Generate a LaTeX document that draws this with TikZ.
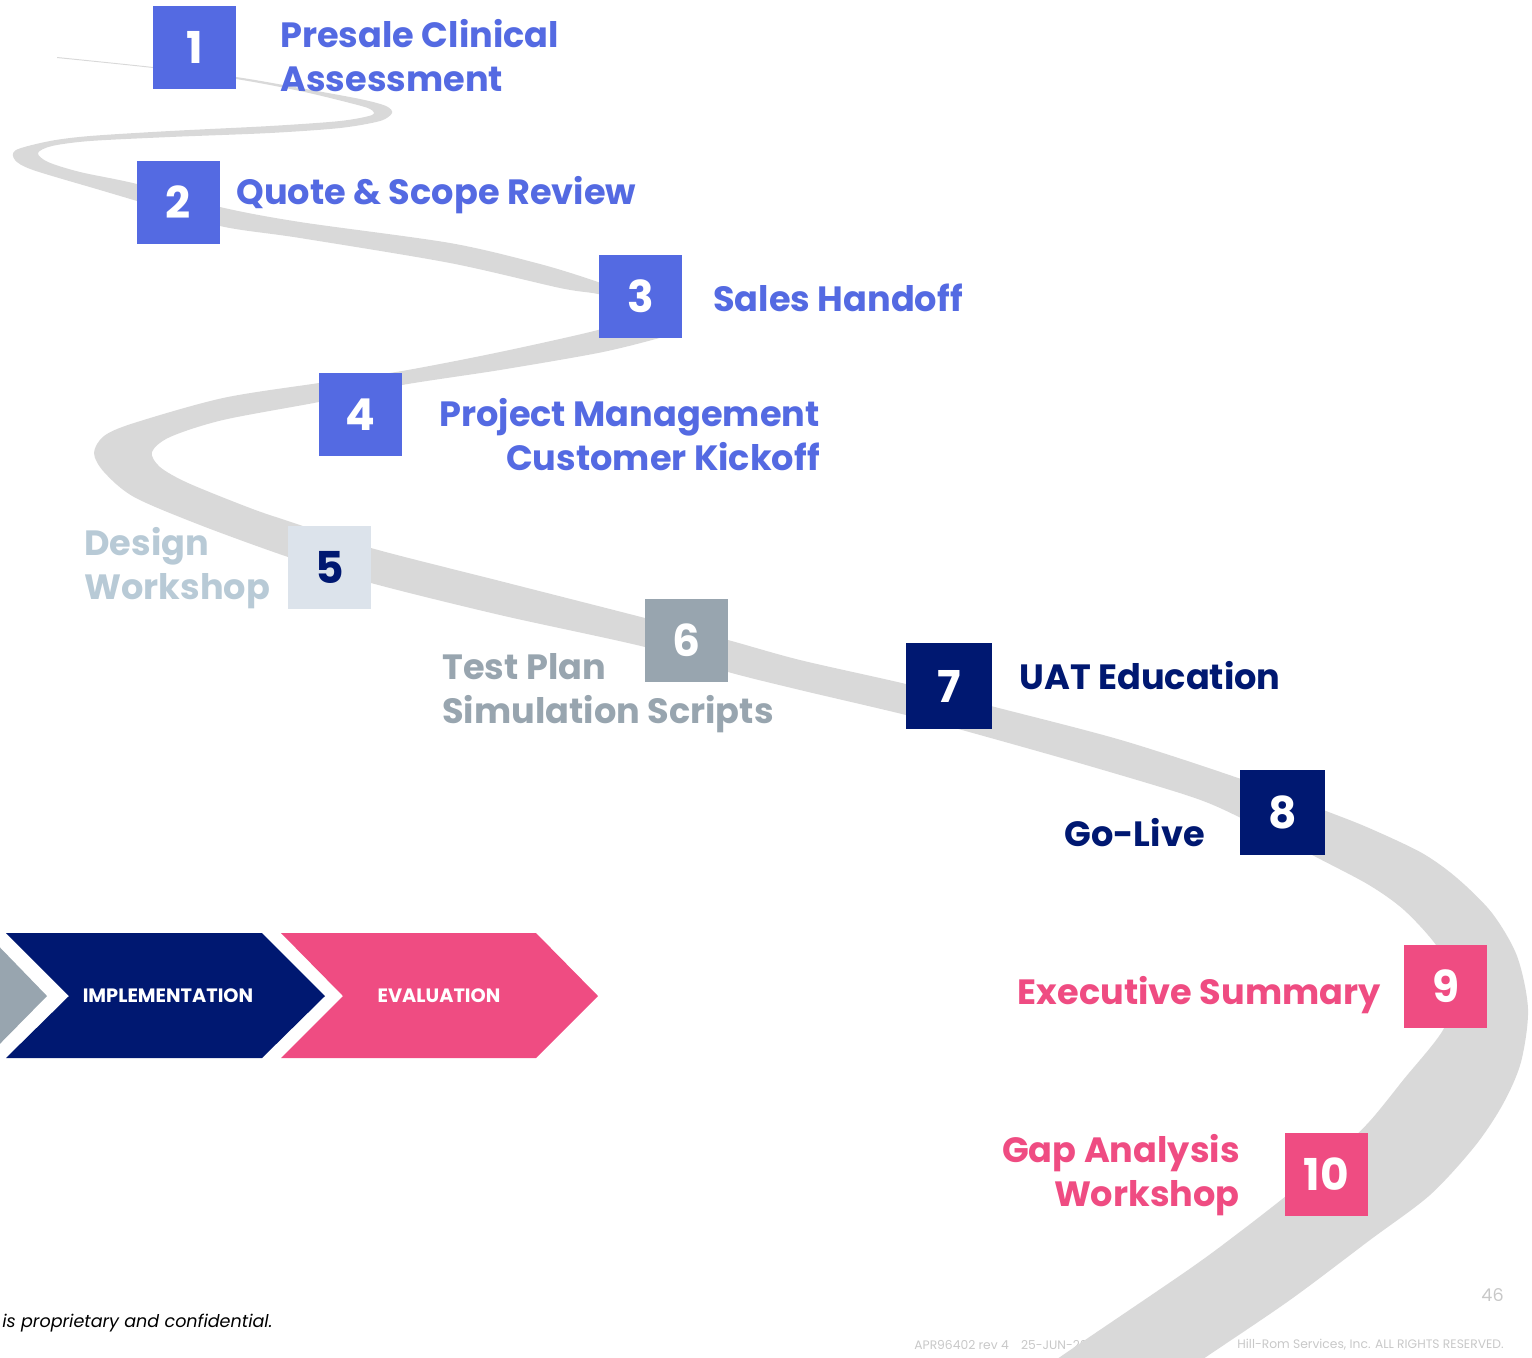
\documentclass[tikz,border=0pt]{standalone}
\usepackage{fontspec}
\setmainfont{Poppins}
\usepackage{tikz}
\usetikzlibrary{positioning}
\definecolor{mblue}{RGB}{84,106,226}
\definecolor{mnavy}{RGB}{0,24,113}
\definecolor{mpink}{RGB}{239,76,130}
\definecolor{mroad}{RGB}{217,217,217}
\definecolor{mslate}{RGB}{152,165,175}
\definecolor{mpale}{RGB}{220,227,235}
\definecolor{mpaletext}{RGB}{184,202,214}
\definecolor{mfoot}{RGB}{200,200,200}
\tikzset{numbox/.style = {rectangle, inner sep = 0, minimum size = 1.66cm,
                          font = \fontsize{25}{25}\selectfont\bfseries, text = white}}
\tikzset{steplabel/.style = {inner sep = 0, font = \fontsize{20}{25}\selectfont\bfseries}}
\tikzset{phase/.style = {font = \fontsize{11}{11}\selectfont\bfseries, text = white}}

\begin{document}
\begin{tikzpicture}[x=0.02cm, y=-0.02cm]
    \useasboundingbox (0, 0) rectangle (1532, 1357);

    % footer
    \node (foot1) at (2, 1323) [anchor=west, inner sep=0, font=\fontsize{10}{10}\selectfont\itshape] {is proprietary and confidential.};
    \node (page) at (1504, 1295) [anchor=east, inner sep=0, text=mfoot, font=\fontsize{10}{10}\selectfont] {46};
    \node (foot2) at (914, 1345) [anchor=west, inner sep=0, text=mfoot, font=\fontsize{7}{7}\selectfont] {APR96402 rev 4\quad 25-JUN-20};
    \node (foot3) at (1504, 1345) [anchor=east, inner sep=0, text=mfoot, font=\fontsize{7}{7}\selectfont] {Hill-Rom Services, Inc. ALL RIGHTS RESERVED.};

    % road
    \fill [mroad] plot [smooth, tension=0.5] coordinates {(57, 57) (153, 67) (236, 77) (300, 88) (360, 99) (386, 106) (392, 113) (380, 121) (340, 128) (270, 133) (170, 137) (90, 141) (52, 146) (38, 153) (48, 162) (80, 172) (137, 184) (220, 207) (300, 222) (450, 243) (540, 264) (598, 282) (645, 300) (672, 318) (668, 334) (652, 340) (598, 353) (500, 370) (402, 385) (319, 402) (223, 420) (170, 437) (152, 452) (160, 467) (188, 483) (250, 508) (288, 521) (371, 548) (500, 581) (645, 618) (728, 640) (800, 660) (906, 684) (991, 706) (1121, 740) (1241, 779) (1326, 811) (1369, 828) (1422, 853) (1457, 878) (1492, 913) (1517, 956) (1528, 1009) (1521, 1062) (1503, 1104) (1475, 1146) (1430, 1195) (1370, 1240) (1290, 1300) (1206, 1357) (1180, 1375)}
      -- plot [smooth, tension=0.5] coordinates {(1035, 1375) (1060, 1357) (1188, 1270) (1241, 1231) (1286, 1196) (1330, 1160) (1369, 1122) (1404, 1079) (1443, 1030) (1458, 985) (1436, 945) (1404, 910) (1369, 885) (1316, 857) (1241, 818) (1192, 797) (1086, 765) (980, 735) (906, 715) (800, 690) (728, 672) (645, 647) (500, 615) (371, 583) (288, 557) (200, 525) (134, 497) (104, 472) (94, 453) (104, 436) (134, 423) (223, 398) (319, 383) (402, 371) (500, 352) (598, 330) (630, 318) (640, 305) (598, 294) (560, 288) (450, 263) (300, 238) (220, 226) (137, 201) (100, 190) (33, 170) (15, 160) (16, 150) (50, 141) (90, 136) (170, 131) (270, 126) (340, 121) (372, 115) (370, 109) (350, 103) (300, 91) (236, 79) (153, 68) (57, 58)}
      -- cycle;

    % phases
    \fill [mslate] (-20, 933) -- (-14, 933) -- (47, 996) -- (-14, 1058) -- (-20, 1058) -- cycle;
    \fill [mnavy] (6, 933) -- (262, 933) -- (325, 996) -- (262, 1058) -- (6, 1058) -- (69, 996) -- cycle;
    \fill [mpink] (281, 933) -- (536, 933) -- (598, 996) -- (536, 1058) -- (281, 1058) -- (343, 996) -- cycle;
    \node (impl) at (168, 996) [phase] {IMPLEMENTATION};
    \node (eval) at (439, 996) [phase] {EVALUATION};

    % steps
    \node (n1) at (194.5, 47.5) [numbox, fill=mblue] {1};
    \node (n2) at (178.5, 202.5) [numbox, fill=mblue] {2};
    \node (n3) at (640.5, 296.5) [numbox, fill=mblue] {3};
    \node (n4) at (360.5, 414.5) [numbox, fill=mblue] {4};
    \node (n5) at (329.5, 567.5) [numbox, fill=mpale, text=mnavy] {5};
    \node (n6) at (686.5, 640.5) [numbox, fill=mslate] {6};
    \node (n7) at (949, 686) [numbox, fill=mnavy, minimum size=1.72cm] {7};
    \node (n8) at (1282.5, 812.5) [numbox, fill=mnavy, minimum size=1.7cm] {8};
    \node (n9) at (1445.5, 986) [numbox, fill=mpink] {9};
    \node (n10) at (1326.5, 1174.5) [numbox, fill=mpink] {10};

    \node (l1) at (280, 56) [steplabel, anchor=west, align=left, text=mblue] {Presale Clinical\\Assessment};
    \node (l2) at (236, 195) [steplabel, anchor=west, text=mblue] {Quote \& Scope Review};
    \node (l3) at (713, 298) [steplabel, anchor=west, text=mblue] {Sales Handoff};
    \node (l4) at (820, 435) [steplabel, anchor=east, align=right, text=mblue] {Project Management\\Customer Kickoff};
    \node (l5) at (84, 568) [steplabel, anchor=west, align=left, text=mpaletext] {Design\\Workshop};
    \node (l6) at (442, 693) [steplabel, anchor=west, align=left, text=mslate] {Test Plan\\Simulation Scripts};
    \node (l7) at (1019, 676) [steplabel, anchor=west, text=mnavy] {UAT Education};
    \node (l8) at (1205, 833) [steplabel, anchor=east, text=mnavy] {Go-Live};
    \node (l9) at (1381, 995) [steplabel, anchor=east, text=mpink] {Executive Summary};
    \node (l10) at (1240, 1175) [steplabel, anchor=east, align=right, text=mpink] {Gap Analysis\\Workshop};
  \end{tikzpicture}
\end{document}
